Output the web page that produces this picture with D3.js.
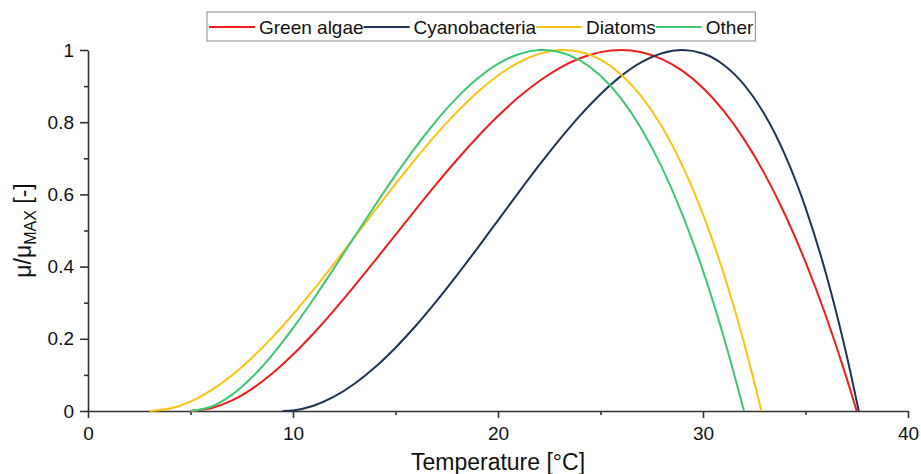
<!DOCTYPE html>
<html>
<head>
<meta charset="utf-8">
<script src="https://cdn.jsdelivr.net/npm/d3@7"></script>
<style>
  body { margin: 0; background: #fff; }
  text { font-family: Arial, "Liberation Sans", sans-serif; }
</style>
</head>
<body>
<div id="chart"></div>
<script>
// series (temperature in °C, relative growth rate)
const seriesNames = ["Green algae", "Cyanobacteria", "Diatoms", "Other"];
const seriesColors = ["#f21c1c", "#1f3553", "#ffc20e", "#3cc872"];

const greenAlgaeT = [5,6,7,8,9,10,11,12,13,14,15,16,17,18,19,20,21,22,23,24,25,26,27,28,29,30,31,32,33,34,35,36,37,37.5];
const greenAlgaeMu = [0,.0074,.0285,.0615,.1046,.1563,.2148,.2787,.3465,.4168,.4881,.5593,.629,.6959,.759,.817,.8689,.9135,.95,.9771,.9941,1,.9938,.9748,.942,.8946,.832,.7532,.6575,.5443,.4129,.2625,.0925,0];

const cyanoT = [9.5,10,11,12,13,14,15,16,17,18,19,20,21,22,23,24,25,26,27,28,29,30,31,32,33,34,35,36,37,37.6];
const cyanoMu = [0,.0017,.0147,.0397,.0756,.1212,.1754,.2368,.3043,.3763,.4514,.5282,.605,.6801,.7518,.8183,.8776,.9276,.9662,.9911,1,.9903,.9593,.9041,.8219,.7094,.5634,.3801,.1559,0];

const diatomsT = [3,4,5,6,7,8,9,10,11,12,13,14,15,16,17,18,19,20,21,22,23,23.2,24,25,26,27,28,29,30,31,32,32.85];
const diatomsMu = [0,.0067,.0261,.0569,.0977,.1474,.2046,.268,.3362,.4078,.4814,.5557,.629,.6999,.767,.8287,.8833,.9294,.9653,.9893,.9997,1,.9949,.973,.9323,.871,.7873,.6792,.5447,.3821,.1892,0];

const otherT = [5,6,7,8,9,10,11,12,13,14,15,16,17,18,19,20,21,22,22.2,23,24,25,26,27,28,29,30,31,32];
const otherMu = [0,.0117,.044,.0934,.1563,.2296,.3102,.3955,.4826,.5694,.6533,.7324,.8046,.868,.9208,.9614,.9882,.9997,1,.9944,.9712,.9287,.8658,.7813,.6742,.5434,.3881,.2072,0];

const xMajor = [0, 10, 20, 30, 40];
const xMinor = [5, 15, 25, 35];
const yMajor = [0, 0.2, 0.4, 0.6, 0.8, 1];
const yMinor = [0.1, 0.3, 0.5, 0.7, 0.9];

const width = 921;
const height = 474;
const margin = {left: 88, right: 13, top: 50, bottom: 63};

const svg = d3.select('#chart')
  .append('svg')
  .attr('width', width)
  .attr('height', height);

const xScale = d3.scaleLinear().domain([0, 40]).range([margin.left, width - margin.right]);
const yScale = d3.scaleLinear().domain([0, 1]).range([height - margin.bottom, margin.top]);

const axisColor = '#333';

// x axis (major + minor ticks)
svg.append('g')
  .attr('transform', `translate(0, ${yScale(0)})`)
  .call(d3.axisBottom(xScale).tickValues(xMajor).tickSize(7).tickSizeOuter(0).tickPadding(9));
svg.append('g')
  .attr('transform', `translate(0, ${yScale(0)})`)
  .call(d3.axisBottom(xScale).tickValues(xMinor).tickSize(4).tickFormat(''))
  .select('.domain').remove();

// y axis
svg.append('g')
  .attr('transform', `translate(${xScale(0)}, 0)`)
  .call(d3.axisLeft(yScale).tickValues(yMajor).tickSize(8).tickSizeOuter(0).tickPadding(6).tickFormat(d3.format('~g')));
svg.append('g')
  .attr('transform', `translate(${xScale(0)}, 0)`)
  .call(d3.axisLeft(yScale).tickValues(yMinor).tickSize(4).tickFormat(''))
  .select('.domain').remove();

svg.selectAll('.domain, .tick line')
  .attr('stroke', axisColor)
  .attr('stroke-width', 1.6);
svg.selectAll('.tick text')
  .attr('font-size', 19)
  .attr('font-family', 'Arial, "Liberation Sans", sans-serif')
  .attr('fill', '#111');

// axis titles
svg.append('text')
  .attr('x', (xScale(0) + xScale(40)) / 2)
  .attr('y', 470)
  .attr('text-anchor', 'middle')
  .attr('font-size', 23)
  .attr('fill', '#111')
  .text('Temperature [°C]');

const yTitle = svg.append('text')
  .attr('transform', `translate(31, ${(yScale(0) + yScale(1)) / 2}) rotate(-90)`)
  .attr('text-anchor', 'middle')
  .attr('font-size', 23)
  .attr('fill', '#111');
yTitle.append('tspan').text('μ/μ');
yTitle.append('tspan').attr('font-size', 16).attr('dy', 5).text('MAX');
yTitle.append('tspan').attr('dy', -5).text(' [-]');

// curves
const series = [
  {t: greenAlgaeT, mu: greenAlgaeMu},
  {t: cyanoT, mu: cyanoMu},
  {t: diatomsT, mu: diatomsMu},
  {t: otherT, mu: otherMu}
];

const line = d3.line()
  .x(d => xScale(d[0]))
  .y(d => yScale(d[1]))
  .curve(d3.curveMonotoneX);

series.forEach((s, i) => {
  svg.append('path')
    .datum(s.t.map((t, j) => [t, s.mu[j]]))
    .attr('fill', 'none')
    .attr('stroke', seriesColors[i])
    .attr('stroke-width', 2)
    .attr('d', line);
});

// legend
const legend = svg.append('g');
const legendBox = legend.append('rect')
  .attr('x', 207).attr('y', 12)
  .attr('height', 29)
  .attr('fill', '#fff')
  .attr('stroke', '#888')
  .attr('stroke-width', 1);

let lx = 209;
const ly = 27;
seriesNames.forEach((name, i) => {
  legend.append('line')
    .attr('x1', lx).attr('x2', lx + 46)
    .attr('y1', ly).attr('y2', ly)
    .attr('stroke', seriesColors[i])
    .attr('stroke-width', 2);
  const txt = legend.append('text')
    .attr('x', lx + 50)
    .attr('y', ly + 7)
    .attr('font-size', 19)
    .attr('fill', '#111')
    .text(name);
  lx = lx + 50 + txt.node().getComputedTextLength();
});
legendBox.attr('width', lx - 207 + 2);
</script>
</body>
</html>
